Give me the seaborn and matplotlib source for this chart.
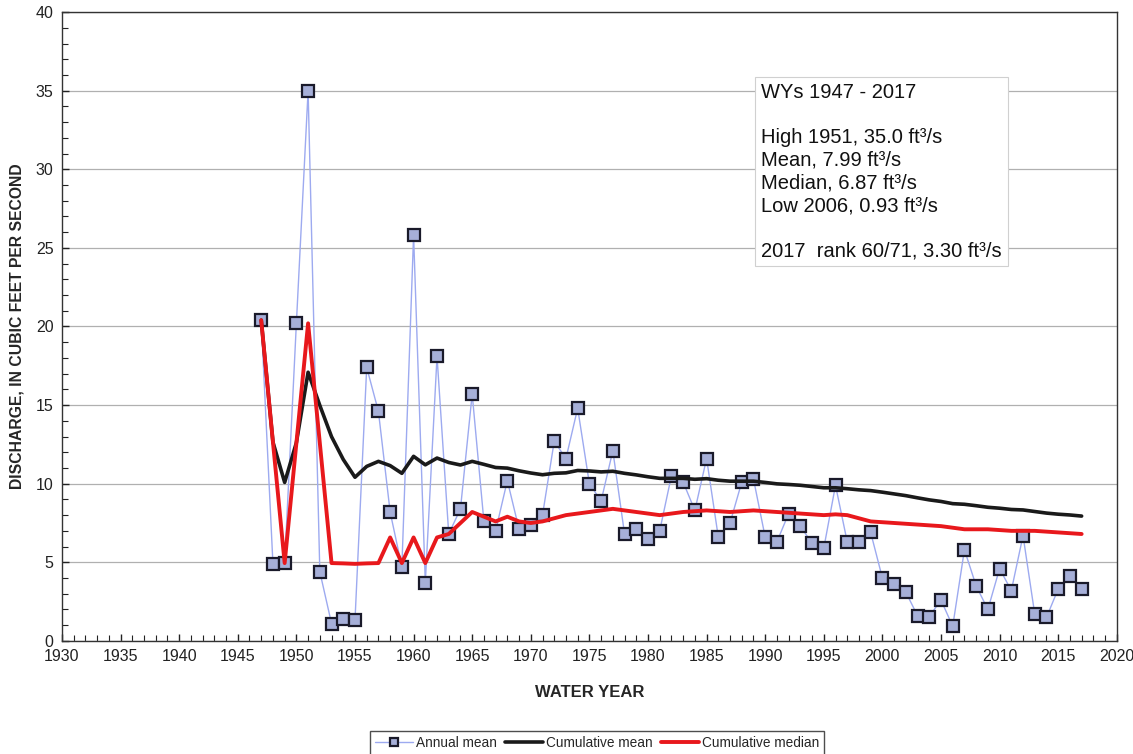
import seaborn as sns
import pandas as pd
import numpy as np
import matplotlib.pyplot as plt
from matplotlib.ticker import MultipleLocator

# data
years = list(range(1947, 2018))
annual_mean = [20.4, 4.9, 4.95, 20.2, 35.0, 4.4, 1.1, 1.4, 1.3, 17.4,
               14.6, 8.2, 4.7, 25.8, 3.7, 18.1, 6.8, 8.4, 15.7, 7.6,
               7.0, 10.2, 7.1, 7.4, 8.0, 12.7, 11.6, 14.8, 10.0, 8.9,
               12.1, 6.8, 7.1, 6.5, 7.0, 10.5, 10.1, 8.3, 11.6, 6.6,
               7.5, 10.1, 10.3, 6.6, 6.3, 8.1, 7.3, 6.2, 5.9, 9.9,
               6.3, 6.3, 6.9, 4.0, 3.6, 3.1, 1.6, 1.55, 2.6, 0.93,
               5.8, 3.5, 2.0, 4.6, 3.2, 6.7, 1.7, 1.5, 3.3, 4.1, 3.3]
cum_mean = [20.4, 12.65, 10.08, 12.61, 17.09, 14.98, 12.99, 11.54, 10.41, 11.1,
            11.42, 11.15, 10.66, 11.74, 11.2, 11.63, 11.35, 11.19, 11.42, 11.23,
            11.03, 10.99, 10.82, 10.68, 10.57, 10.66, 10.69, 10.84, 10.81, 10.75,
            10.79, 10.66, 10.56, 10.44, 10.34, 10.34, 10.34, 10.28, 10.32, 10.22,
            10.16, 10.16, 10.16, 10.08, 9.99, 9.95, 9.9, 9.82, 9.74, 9.74,
            9.68, 9.61, 9.56, 9.46, 9.35, 9.24, 9.1, 8.97, 8.87, 8.73,
            8.69, 8.6, 8.5, 8.44, 8.36, 8.33, 8.23, 8.13, 8.06, 8.01, 7.94]
cum_median = [20.4, 12.65, 4.95, 12.58, 20.2, 12.58, 4.95, 4.93, 4.9, 4.93,
              4.95, 6.58, 4.95, 6.58, 4.95, 6.58, 6.8, 7.5, 8.2, 7.9,
              7.6, 7.9, 7.6, 7.5, 7.6, 7.8, 8.0, 8.1, 8.2, 8.3,
              8.4, 8.3, 8.2, 8.1, 8.0, 8.1, 8.2, 8.25, 8.3, 8.25,
              8.2, 8.25, 8.3, 8.25, 8.2, 8.15, 8.1, 8.05, 8.0, 8.05,
              8.0, 7.8, 7.6, 7.55, 7.5, 7.45, 7.4, 7.35, 7.3, 7.2,
              7.1, 7.1, 7.1, 7.05, 7.0, 7.0, 7.0, 6.95, 6.9, 6.85, 6.8]

info_text = ("WYs 1947 - 2017\n\n"
             "High 1951, 35.0 ft\u00b3/s\n"
             "Mean, 7.99 ft\u00b3/s\n"
             "Median, 6.87 ft\u00b3/s\n"
             "Low 2006, 0.93 ft\u00b3/s\n\n"
             "2017  rank 60/71, 3.30 ft\u00b3/s")

df = pd.DataFrame({'year': years, 'annual': annual_mean,
                   'cmean': cum_mean, 'cmedian': cum_median})

sns.set_theme(style='white')
plt.rcParams['font.family'] = ['Liberation Sans', 'DejaVu Sans']

fig = plt.figure(figsize=(11.33, 7.54), dpi=100)
ax = fig.add_axes([0.0547, 0.150, 0.931, 0.834])

sns.lineplot(data=df, x='year', y='annual', ax=ax, color='#9daaf0', lw=1.0,
             marker='s', markersize=8, markerfacecolor='#a6afd8',
             markeredgecolor='#1a1a2a', markeredgewidth=1.6,
             label='Annual mean', zorder=2)
sns.lineplot(data=df, x='year', y='cmean', ax=ax, color='#1a1a1a', lw=2.6,
             label='Cumulative mean', zorder=3)
sns.lineplot(data=df, x='year', y='cmedian', ax=ax, color='#e8181c', lw=2.8,
             label='Cumulative median', zorder=4)

ax.set_xlim(1930, 2020)
ax.set_ylim(0, 40)
ax.xaxis.set_major_locator(MultipleLocator(5))
ax.xaxis.set_minor_locator(MultipleLocator(1))
ax.yaxis.set_major_locator(MultipleLocator(5))
ax.yaxis.set_minor_locator(MultipleLocator(1))
ax.tick_params(which='both', direction='in', colors='#222222', labelcolor='#222222')
ax.tick_params(which='major', length=5, width=1, labelsize=11.5, pad=6)
ax.tick_params(which='minor', length=4, width=0.8)
ax.tick_params(axis='x', which='both', bottom=True)
ax.tick_params(axis='y', which='both', left=True)
ax.grid(axis='y', which='major', color='#b0b0b0', lw=0.9)
ax.set_axisbelow(True)
for s in ax.spines.values():
    s.set_color('#333333')
    s.set_linewidth(1.0)

ax.set_xlabel('WATER YEAR', fontsize=12, fontweight='bold', labelpad=15)
ax.set_ylabel('DISCHARGE, IN CUBIC FEET PER SECOND', fontsize=11.3,
              fontweight='bold', labelpad=8)

ax.text(0.663, 0.887, info_text, transform=ax.transAxes, ha='left', va='top',
        fontsize=14.5, linespacing=1.24, color='#111111',
        bbox=dict(boxstyle='square,pad=0.3', facecolor='white',
                  edgecolor='#d0d0d0', lw=0.8))

handles, labels = ax.get_legend_handles_labels()
ax.get_legend().remove()
leg = fig.legend(handles, labels, loc='center', ncol=3,
                 bbox_to_anchor=(597 / 1133, 1 - 743 / 754), fontsize=9.8,
                 frameon=True, fancybox=False, edgecolor='#222222',
                 handlelength=2.8, handletextpad=0.2, columnspacing=0.6,
                 borderpad=0.35, borderaxespad=0, markerscale=0.75)
leg.get_frame().set_linewidth(1.0)

fig.savefig('out.png', dpi=100)
